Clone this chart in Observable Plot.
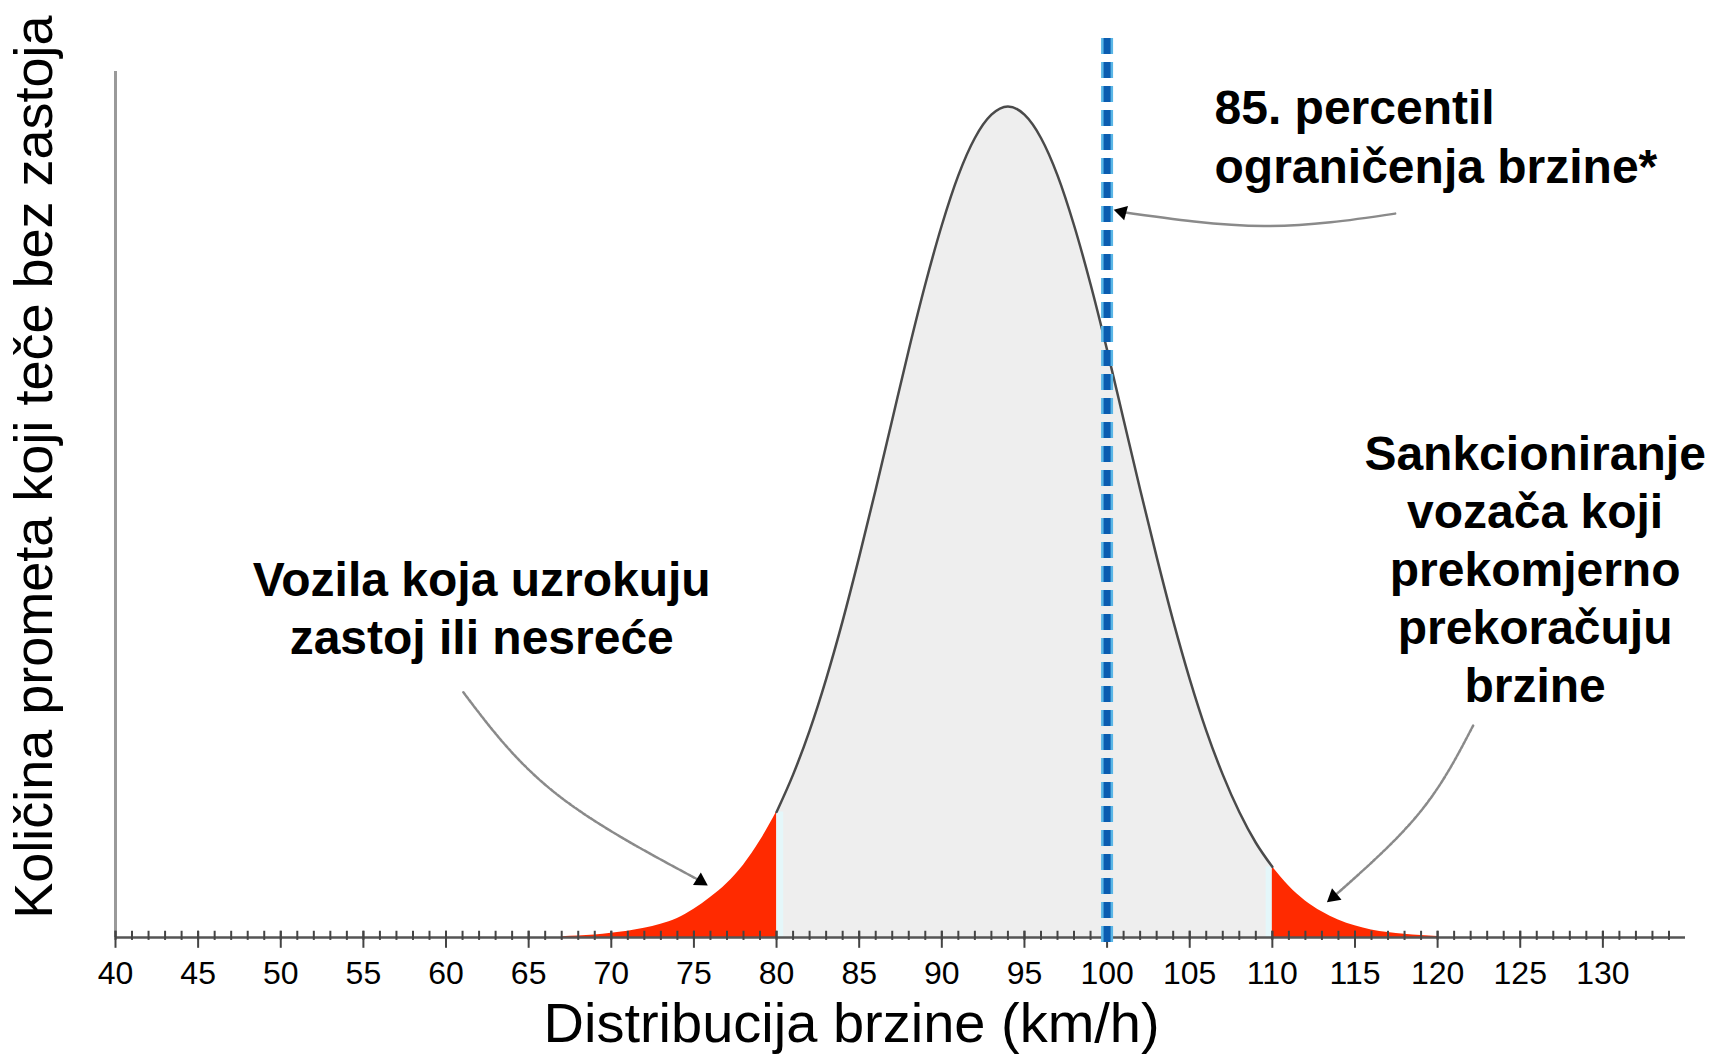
<!DOCTYPE html>
<html><head><meta charset="utf-8">
<script src="https://cdn.jsdelivr.net/npm/d3@7"></script>
<script src="https://cdn.jsdelivr.net/npm/@observablehq/plot@0.6"></script>
<style>html,body{margin:0;padding:0;background:#fff}</style>
</head><body><div id="chart"></div>
<script>
// Speed (km/h) and relative amount of free-flowing traffic
const speeds = [67,68,69,70,71,72,73,74,75,76,77,78,79,80,81,82,83,84,85,86,87,88,89,90,91,92,93,94,95,96,97,98,99,100,101,102,103,104,105,106,107,108,109,110,111,112,113,114,115,116,117,118,119,120];
const counts = [0.1,0.18,0.3,0.5,0.75,1.1,1.6,2.3,3.4,4.8,6.5,8.7,11.6,15.1,19.6,24.9,31.1,38.1,45.8,53.9,62.3,70.7,78.6,85.7,91.7,96.2,99.0,100,99.0,96.2,91.7,85.7,78.6,70.7,62.3,53.9,45.8,38.1,31.1,24.9,19.6,15.1,11.4,8.5,6.2,4.4,3.1,2.1,1.4,0.9,0.6,0.4,0.25,0.12];
const tickLabels = [40,45,50,55,60,65,70,75,80,85,90,95,100,105,110,115,120,125,130];
const lowLimit = 80;
const highLimit = 110;
const percentile85 = 100;
const xTitle = "Distribucija brzine (km/h)";
const yTitle = "Količina prometa koji teče bez zastoja";
const noteLow = "Vozila koja uzrokuju\nzastoj ili nesreće";
const noteHigh = "Sankcioniranje\nvozača koji\nprekomjerno\nprekoračuju\nbrzine";
const notePct = "85. percentil\nograničenja brzine*";

const rows = speeds.map((s, i) => ({speed: s, count: counts[i]}));
const left = rows.filter(d => d.speed <= lowLimit);
const mid = rows.filter(d => d.speed >= lowLimit && d.speed <= highLimit);
const right = rows.filter(d => d.speed >= highLimit);
const minorTicks = d3.range(40, 135, 1);

// annotation arrow paths (data space)
const arrowPct = [{x:117.43,y:87.1},{x:109.5,y:85.6},{x:100.9,y:87.3}];
const arrowLow = [{x:61.05,y:29.5},{x:66.6,y:17.4},{x:75.4,y:6.8}];
const arrowHigh = [{x:122.15,y:25.5},{x:118.9,y:15.0},{x:113.7,y:4.9}];

const red = "#ff2a00";
const font = "'Liberation Sans', Arial, sans-serif";

const chart = Plot.plot({
  width: 1713,
  height: 1054,
  marginLeft: 115,
  marginRight: 28,
  marginTop: 71,
  marginBottom: 117,
  x: {domain: [40, 135], axis: null},
  y: {domain: [0, 104.2], axis: null},
  style: {fontFamily: font, background: "white", color: "black"},
  marks: [
    Plot.areaY(mid, {x: "speed", y: "count", fill: "#eeeeee", curve: "monotone-x"}),
    Plot.ruleX([lowLimit + 0.22], {y1: 0, y2: mid[0].count, stroke: "#e4f7fa", strokeWidth: 6}),
    Plot.ruleX([highLimit - 0.22], {y1: 0, y2: mid[mid.length - 1].count, stroke: "#e4f7fa", strokeWidth: 6}),
    Plot.areaY(left, {x: "speed", y: "count", fill: red, curve: "monotone-x"}),
    Plot.areaY(right, {x: "speed", y: "count", fill: red, curve: "monotone-x"}),
    Plot.lineY(mid, {x: "speed", y: "count", stroke: "#4a4a4a", strokeWidth: 2.5, curve: "monotone-x"}),
    Plot.ruleX([40], {stroke: "#9a9a9a", strokeWidth: 3}),
    Plot.ruleY([0], {stroke: "#555", strokeWidth: 2.5}),
    Plot.ruleX(minorTicks, {y1: -0.35, y2: 0.75, stroke: "#444", strokeWidth: 2}),
    Plot.ruleX(tickLabels, {y1: -1.3, y2: 0.75, stroke: "#444", strokeWidth: 2}),
    Plot.ruleX([percentile85], {y1: -0.6, y2: 108.7, stroke: "#5ab6e6", strokeWidth: 12, strokeDasharray: "16,8"}),
    Plot.ruleX([percentile85], {y1: -0.6, y2: 108.7, stroke: "#0b5cb0", strokeWidth: 7, strokeDasharray: "16,8"}),
    Plot.axisX({ticks: tickLabels, tickSize: 0, tickPadding: 24, fontSize: 32, label: null, tickFormat: d => String(d)}),
    Plot.text([xTitle], {x: 84.54, y: -10.4, fontSize: 56, fill: "black"}),
    Plot.text([yTitle], {x: 35.12, y: 56.6, rotate: -90, fontSize: 54, fill: "black"}),
    Plot.text([notePct], {x: 106.5, y: 96.6, textAnchor: "start", fontSize: 48, fontWeight: "bold", lineHeight: 1.23, fill: "black"}),
    Plot.text([noteLow], {x: 62.16, y: 39.8, fontSize: 48, fontWeight: "bold", lineHeight: 1.21, fill: "black"}),
    Plot.text([noteHigh], {x: 125.9, y: 44.5, fontSize: 48, fontWeight: "bold", lineHeight: 1.21, fill: "black"}),
    Plot.line(arrowPct, {x: "x", y: "y", stroke: "#8a8a8a", strokeWidth: 2.5, curve: "natural"}),
    Plot.line(arrowLow, {x: "x", y: "y", stroke: "#8a8a8a", strokeWidth: 2.5, strokeDasharray: "3,1.5", curve: "natural"}),
    Plot.line(arrowHigh, {x: "x", y: "y", stroke: "#8a8a8a", strokeWidth: 2.5, strokeDasharray: "3,1.5", curve: "natural"}),
    Plot.dot([arrowPct[arrowPct.length - 1]], {x: "x", y: "y", symbol: "triangle", r: 5.5, fill: "black", rotate: -75}),
    Plot.dot([arrowLow[arrowLow.length - 1]], {x: "x", y: "y", symbol: "triangle", r: 5.5, fill: "black", rotate: 122}),
    Plot.dot([arrowHigh[arrowHigh.length - 1]], {x: "x", y: "y", symbol: "triangle", r: 5.5, fill: "black", rotate: 230})
  ]
});
document.getElementById("chart").appendChild(chart);
</script>
</body></html>
